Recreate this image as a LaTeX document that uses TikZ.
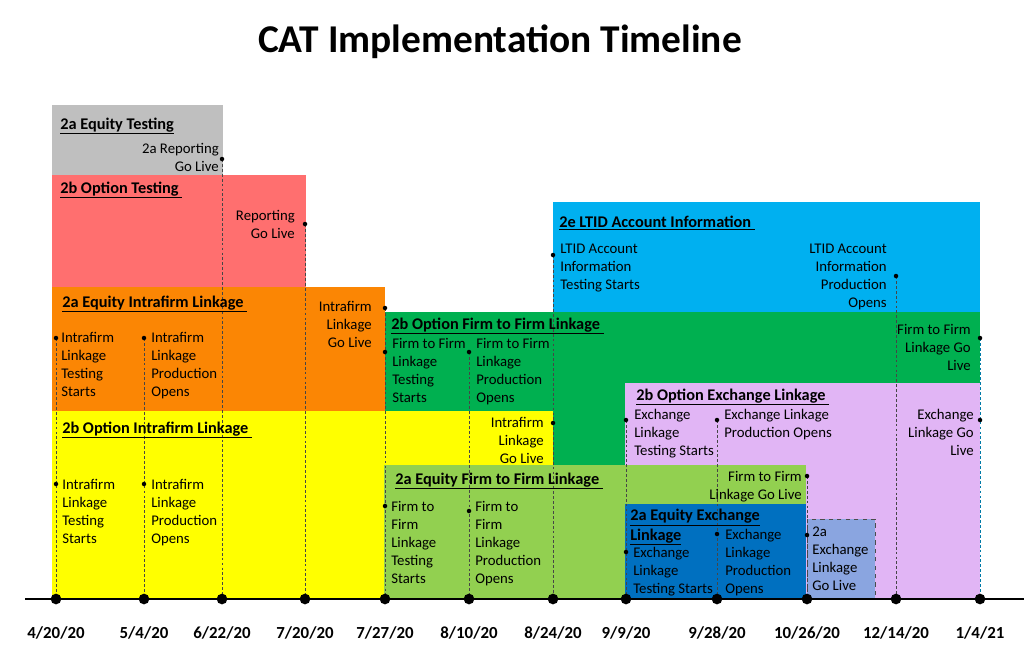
\documentclass[tikz,border=0pt]{standalone}
\usepackage{fontspec}
\setmainfont{Carlito}
\definecolor{eqtest}{HTML}{BFBFBF}
\definecolor{optest}{HTML}{FF6F6F}
\definecolor{eqintra}{HTML}{FB8604}
\definecolor{opintra}{HTML}{FFFF00}
\definecolor{opfirm}{HTML}{00B050}
\definecolor{ltid}{HTML}{00B0F0}
\definecolor{opexch}{HTML}{E1B5F5}
\definecolor{eqfirm}{HTML}{92D050}
\definecolor{eqexch}{HTML}{0070C0}
\definecolor{exgolive}{HTML}{8AA5E0}
\newcommand\evfont{\fontsize{10.5}{12.8}\selectfont}
\newcommand\phasefont{\fontsize{11.6}{14}\selectfont\bfseries}

\begin{document}
\begin{tikzpicture}[x=0.025cm, y=-0.025cm,
    phase/.style={anchor=base west, inner sep=0pt, align=left, font=\phasefont},
    evl/.style={anchor=base west, inner sep=0pt, align=left, font=\evfont},
    evr/.style={anchor=base east, inner sep=0pt, align=right, font=\evfont},
    guide/.style={gray!55!black, line width=0.5pt, dash pattern=on 2pt off 1.5pt},
    datelbl/.style={anchor=base, inner sep=0pt, font=\fontsize{12}{14}\selectfont\bfseries}]
        \useasboundingbox (0,0) rectangle (1024,660);
        % ==== TITLE ====
        \node[anchor=base, font=\fontsize{28}{32}\selectfont\bfseries] (title) at (500,52) {CAT Implementation Timeline};

        % ==== PHASE BLOCKS ====
        \fill[eqtest] (52,105) rectangle (223,175);
        \fill[optest] (52,175) rectangle (306,287);
        \fill[eqintra] (52,287) rectangle (385,411);
        \fill[opfirm] (385,312) rectangle (980,465);
        \fill[ltid] (553,202) rectangle (980,312);
        \fill[opintra] (52,411) rectangle (553,599);
        \fill[opexch] (625,383) rectangle (980,599);
        \fill[eqfirm] (384,465) rectangle (806,599);
        \fill[eqexch] (625,504) rectangle (806,599);
        \filldraw[fill=exgolive, draw=gray!60!black, dashed, line width=0.5pt] (807,519) rectangle (875,599);

        % ==== TIME AXIS ====
        \coordinate (axl) at (25,599);
        \coordinate (axr) at (1024,599);
        \coordinate (d0420) at (56,599);
        \coordinate (d0504) at (144,599);
        \coordinate (d0622) at (222,599);
        \coordinate (d0720) at (305,599);
        \coordinate (d0727) at (385,599);
        \coordinate (d0810) at (469,599);
        \coordinate (d0824) at (553,599);
        \coordinate (d0909) at (626,599);
        \coordinate (d0928) at (717,599);
        \coordinate (d1026) at (807,599);
        \coordinate (d1214) at (896,599);
        \coordinate (d0104) at (980,599);

        % ==== EVENTS ====
        \coordinate (rep2a) at (222,159);
        \coordinate (rep2b) at (305,224);
        \coordinate (intraGoA) at (385,308);
        \coordinate (intraTestA) at (56,338);
        \coordinate (intraProdA) at (144,338);
        \coordinate (intraTestB) at (56,484);
        \coordinate (intraProdB) at (144,484);
        \coordinate (fffTestB) at (385,352);
        \coordinate (fffProdB) at (469,352);
        \coordinate (intraGoB) at (553,423);
        \coordinate (ltidTest) at (553,255);
        \coordinate (ltidProd) at (896,276);
        \coordinate (fffGoB) at (980,338);
        \coordinate (exTestB) at (626,420);
        \coordinate (exProdB) at (717,420);
        \coordinate (exGoB) at (980,420);
        \coordinate (fffTestA) at (385,506);
        \coordinate (fffProdA) at (469,511);
        \coordinate (fffGoA) at (807,476);
        \coordinate (exTestA) at (626,552);
        \coordinate (exProdA) at (717,534);
        \coordinate (exGoA) at (807,535);

        % ==== Dashed guide lines ====
        \draw[guide] (rep2a) -- (d0622);
        \draw[guide] (rep2b) -- (d0720);
        \draw[guide] (intraGoA) -- (d0727);
        \draw[guide] (intraTestA) -- (d0420);
        \draw[guide] (intraProdA) -- (d0504);
        \draw[guide] (fffProdB) -- (d0810);
        \draw[guide] (ltidTest) -- (d0824);
        \draw[guide] (exTestB) -- (d0909);
        \draw[guide] (exProdB) -- (d0928);
        \draw[guide] (fffGoA) -- (d1026);
        \draw[guide] (ltidProd) -- (d1214);
        \draw[guide, ltid!70!black] (fffGoB) -- (d0104);

        \draw[line width=1.3pt] (axl) -- (axr);
        \foreach \d in {d0420,d0504,d0622,d0720,d0727,d0810,d0824,d0909,d0928,d1026,d1214,d0104}
            \fill (\d) circle (3.8pt);
        \foreach \e in {rep2a,rep2b,intraGoA,intraTestA,intraProdA,intraTestB,intraProdB,fffTestB,fffProdB,
                intraGoB,ltidTest,ltidProd,fffGoB,exTestB,exProdB,exGoB,fffTestA,fffProdA,fffGoA,exTestA,exProdA,exGoA}
            \fill (\e) circle (1.6pt);

        % ==== Phase titles ====
        \node[phase] (pEqTest) at (60,129) {\underline{2a Equity Testing}};
        \node[phase] (pOpTest) at (60,193) {\underline{2b Option Testing~}};
        \node[phase] (pEqIntra) at (62,307) {\underline{2a Equity Intrafirm Linkage~}};
        \node[phase] (pOpIntra) at (62,433) {\underline{2b Option Intrafirm Linkage~}};
        \node[phase] (pOpFirm) at (391,329) {\underline{2b Option Firm to Firm Linkage~}};
        \node[phase] (pLtid) at (559,227) {\underline{2e LTID Account Information~}};
        \node[phase] (pOpExch) at (636,400) {\underline{2b Option Exchange Linkage~}};
        \node[phase] (pEqFirm) at (395,484) {\underline{2a Equity Firm to Firm Linkage~}};
        \node[phase] (pEqExch) at (630,540) {\underline{2a Equity Exchange}\\\underline{Linkage}};

        % ==== Event labels (placed at the baseline of their last line) ====
        \node[evr] (lRep2a) at (219,171) {2a Reporting\\Go Live};
        \node[evr] (lRep2b) at (295,238) {Reporting\\Go Live};
        \node[evr] (lIntraGoA) at (372,347) {Intrafirm\\Linkage\\Go Live};
        \node[evl] (lIntraTestA) at (61,396) {Intrafirm\\Linkage\\Testing\\Starts};
        \node[evl] (lIntraProdA) at (151,396) {Intrafirm\\Linkage\\Production\\Opens};
        \node[evl] (lIntraTestB) at (62,543) {Intrafirm\\Linkage\\Testing\\Starts};
        \node[evl] (lIntraProdB) at (151,543) {Intrafirm\\Linkage\\Production\\Opens};
        \node[evl] (lFffTestB) at (392,402) {Firm to Firm\\Linkage\\Testing\\Starts};
        \node[evl] (lFffProdB) at (476,402) {Firm to Firm\\Linkage\\Production\\Opens};
        \node[evr] (lIntraGoB) at (544,463) {Intrafirm\\Linkage\\Go Live};
        \node[evl] (lLtidTest) at (560,289) {LTID Account\\Information\\Testing Starts};
        \node[evr] (lLtidProd) at (887,307) {LTID Account\\Information\\Production\\Opens};
        \node[evr] (lFffGoB) at (971,370) {Firm to Firm\\Linkage Go\\Live};
        \node[evl] (lExTestB) at (634,455) {Exchange\\Linkage\\Testing Starts};
        \node[evl] (lExProdB) at (724,437) {Exchange Linkage\\Production Opens};
        \node[evr] (lExGoB) at (974,455) {Exchange\\Linkage Go\\Live};
        \node[evl] (lFffTestA) at (391,583) {Firm to\\Firm\\Linkage\\Testing\\Starts};
        \node[evl] (lFffProdA) at (475,583) {Firm to\\Firm\\Linkage\\Production\\Opens};
        \node[evr] (lFffGoA) at (802,499) {Firm to Firm\\Linkage Go Live};
        \node[evl] (lExTestA) at (633,593) {Exchange\\Linkage\\Testing Starts};
        \node[evl] (lExProdA) at (725,593) {Exchange\\Linkage\\Production\\Opens};
        \node[evl] (lExGoA) at (812,590) {2a\\Exchange\\Linkage\\Go Live};

        % ==== Dates ====
        \node[datelbl] (l0420) at (56,638) {4/20/20};
        \node[datelbl] (l0504) at (144,638) {5/4/20};
        \node[datelbl] (l0622) at (222,638) {6/22/20};
        \node[datelbl] (l0720) at (305,638) {7/20/20};
        \node[datelbl] (l0727) at (385,638) {7/27/20};
        \node[datelbl] (l0810) at (469,638) {8/10/20};
        \node[datelbl] (l0824) at (553,638) {8/24/20};
        \node[datelbl] (l0909) at (626,638) {9/9/20};
        \node[datelbl] (l0928) at (717,638) {9/28/20};
        \node[datelbl] (l1026) at (807,638) {10/26/20};
        \node[datelbl] (l1214) at (896,638) {12/14/20};
        \node[datelbl] (l0104) at (980,638) {1/4/21};
     \end{tikzpicture}
\end{document}
